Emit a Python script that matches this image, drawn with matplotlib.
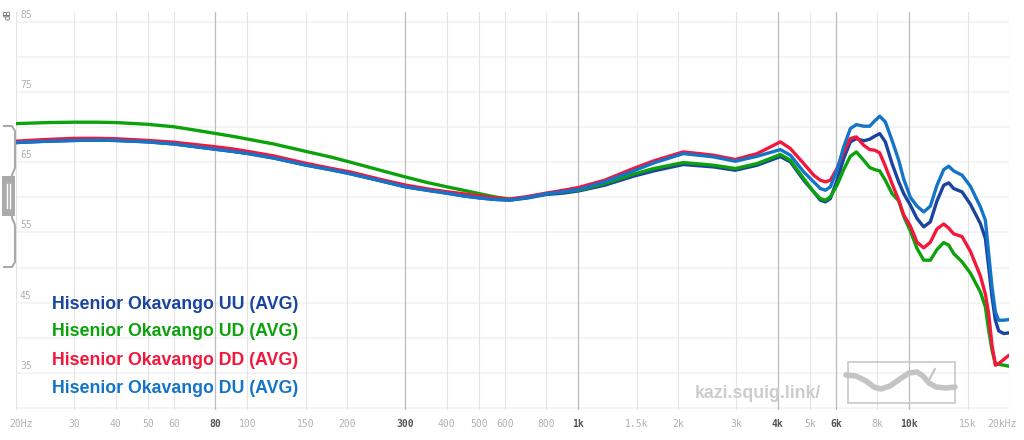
import matplotlib
matplotlib.use("Agg")
import matplotlib.pyplot as plt
from matplotlib.lines import Line2D
from matplotlib.patches import Rectangle
from matplotlib.transforms import IdentityTransform

W, H = 1024, 440

freqs = [20, 25, 30, 35, 40, 50, 60, 70, 80, 90, 100, 120, 150, 180, 205, 250, 300, 350,
         400, 450, 505, 560, 620, 700, 800, 900, 1000, 1200, 1466, 1690, 2075, 2560, 2980, 3470,
         4077, 4370, 4795, 5140, 5384, 5575, 5772, 6046, 6333, 6633, 6917, 7278, 7589, 7858,
         8136, 8462, 8863, 9286, 9614, 10070, 10550, 11050, 11570, 12120, 12700, 13150, 13610,
         14430, 15290, 16390, 16970, 17360, 17770, 18190, 18620, 19280, 20000]

uu = [67.8, 68.0, 68.1, 68.15, 68.1, 67.9, 67.6, 67.2, 66.85, 66.55, 66.25, 65.6, 64.6, 63.9, 63.35, 62.4, 61.5, 61.0,
      60.6, 60.2, 59.9, 59.7, 59.6, 59.9, 60.4, 60.6, 60.9, 61.72, 63.0, 63.76, 64.67, 64.33, 63.86, 64.57,
      65.8, 65.05, 62.43, 60.77, 59.59, 59.35, 59.82, 62.43, 65.52, 67.9, 68.37, 68.04, 68.28, 68.7,
      69.08, 67.9, 64.81, 62.2, 60.54, 58.87, 56.97, 55.79, 56.5, 59.49, 61.72, 62.06, 61.25,
      60.77, 59.02, 56.26, 54.13, 50.09, 45.82, 42.49, 40.97, 40.59, 40.69]

ud = [70.5, 70.65, 70.7, 70.7, 70.65, 70.4, 70.05, 69.55, 69.1, 68.7, 68.3, 67.6, 66.55, 65.7, 65.0, 63.9, 62.9, 62.1,
      61.5, 61.0, 60.5, 60.05, 59.75, 60.0, 60.5, 60.8, 61.0, 61.96, 63.29, 64.1, 64.95, 64.57, 64.1, 64.81,
      66.1, 65.28, 62.67, 60.77, 59.82, 59.59, 60.06, 61.72, 63.95, 65.85, 66.47, 65.28, 64.24, 63.95,
      63.76, 62.43, 60.54, 59.49, 57.3, 55.2, 52.7, 51.04, 51.04, 52.56, 53.56, 53.18, 51.99,
      50.8, 49.2, 46.5, 44.39, 41.07, 38.22, 36.32, 36.22, 36.08, 35.94]

dd = [68.0, 68.25, 68.4, 68.4, 68.35, 68.1, 67.85, 67.5, 67.2, 66.9, 66.55, 65.9, 64.85, 64.1, 63.6, 62.6, 61.75, 61.2,
      60.8, 60.5, 60.2, 59.9, 59.75, 60.1, 60.6, 61.0, 61.39, 62.43, 64.1, 65.19, 66.47, 66.0, 65.38, 66.23,
      67.9, 66.95, 64.81, 63.15, 62.43, 62.2, 62.43, 64.1, 66.47, 68.37, 68.61, 67.42, 66.8, 66.71,
      66.33, 64.43, 61.96, 59.59, 57.5, 55.9, 53.6, 52.8, 53.6, 55.5, 56.2, 55.6, 54.8,
      54.4, 52.3, 48.8, 46.2, 43.44, 38.93, 36.08, 36.32, 36.89, 37.51]

du = [67.8, 68.0, 68.1, 68.15, 68.1, 67.9, 67.6, 67.2, 66.85, 66.55, 66.25, 65.6, 64.6, 63.9, 63.35, 62.4, 61.5, 61.0,
      60.6, 60.2, 59.9, 59.7, 59.6, 59.95, 60.5, 60.8, 61.1, 62.2, 63.76, 64.9, 66.23, 65.76, 65.14, 65.85,
      66.8, 66.0, 63.62, 62.2, 61.25, 61.01, 61.49, 63.86, 67.18, 69.79, 70.36, 70.13, 70.13, 70.89,
      71.55, 70.74, 68.13, 65.28, 62.6, 60.0, 58.73, 57.92, 58.73, 61.72, 63.95, 64.43, 63.76,
      63.15, 61.58, 58.64, 56.74, 52.0, 47.24, 43.68, 42.49, 42.49, 42.59]

names = ["Hisenior Okavango UU (AVG)", "Hisenior Okavango UD (AVG)",
         "Hisenior Okavango DD (AVG)", "Hisenior Okavango DU (AVG)"]
colors = ["#1a44a0", "#0ca20c", "#f5163c", "#1474c8"]

light_ticks = [20, 30, 40, 50, 60, 100, 150, 200, 400, 500, 600, 800, 1500, 2000, 3000, 5000, 8000, 15000, 20000]
dark_ticks = [80, 300, 1000, 4000, 6000, 10000]
tick_text = {20: "20Hz", 30: "30", 40: "40", 50: "50", 60: "60", 80: "80", 100: "100", 150: "150",
             200: "200", 300: "300", 400: "400", 500: "500", 600: "600", 800: "800", 1000: "1k",
             1500: "1.5k", 2000: "2k", 3000: "3k", 4000: "4k", 5000: "5k", 6000: "6k", 8000: "8k",
             10000: "10k", 15000: "15k", 20000: "20kHz"}
db_labels = [35, 45, 55, 65, 75, 85]

fig = plt.figure(figsize=(W / 100, H / 100), dpi=100)
ax = fig.add_axes([16 / W, 1 - 410 / H, (1009 - 16) / W, (410 - 12) / H])
ax.set_xscale("log")
ax.set_xlim(20, 20000)
ax.set_ylim(29.7, 86.4)
for s in ax.spines.values():
    s.set_visible(False)
ax.set_xticks([])
ax.set_yticks([])
ax.minorticks_off()

for y in range(30, 90, 5):
    ax.axhline(y, color="#f3f3f3", lw=1.3, zorder=0)
for f in light_ticks:
    ax.axvline(f, color="#e4e4e4", lw=0.8, zorder=0)
for f in dark_ticks:
    ax.axvline(f, color="#bcbcbc", lw=0.9, zorder=0)

# curves
for vals, c in zip([uu, ud, dd, du], colors):
    ax.plot(freqs, vals, color=c, lw=2.4, solid_joinstyle="round", solid_capstyle="round", zorder=3)

# x labels
for f, t in tick_text.items():
    bold = f in dark_ticks
    dx = 5 if f == 20 else (-7 if f == 20000 else 0)
    ax.annotate(t, xy=(f, 0), xycoords=("data", "axes fraction"), xytext=(dx, -14),
                textcoords="offset pixels", ha="center", va="center",
                family="DejaVu Sans Mono", fontsize=7,
                color="#555555" if bold else "#b0b0b0",
                fontweight="bold" if bold else "normal")

# y labels
for v in db_labels:
    ax.annotate(str(v), xy=(0, v), xycoords=("axes fraction", "data"), xytext=(4, 2),
                textcoords="offset pixels", ha="left", va="bottom",
                family="DejaVu Sans Mono", fontsize=7, color="#b0b0b0")
fig.text(8 / W, 1 - 15 / H, "dB", rotation=90, ha="center", va="center",
         family="DejaVu Sans Mono", fontsize=6.5, color="#666666")

# legend
for i, (n, c) in enumerate(zip(names, colors)):
    fig.text(52 / W, 1 - (304 + 28 * i) / H, n, color=c, fontsize=12.8, fontweight="bold",
             family="Liberation Sans", ha="left", va="center")

# watermark
fig.text(695 / W, 1 - 393 / H, "kazi.squig.link/", color="#cccccc", fontsize=12.8,
         fontweight="bold", family="Liberation Sans", ha="left", va="center")

def px(x, y):
    return x, H - y

tr = IdentityTransform()
fig.add_artist(Rectangle(px(848, 403), 107, 41, fill=False, ec="#c8c8c8", lw=1.2, transform=tr))
sq_x = [846, 856, 866, 874, 881, 890, 900, 909, 917, 923, 929, 936, 946, 955]
sq_y = [375, 376, 381, 387, 389, 386, 379, 373, 372, 376, 383, 387, 388, 387]
fig.add_artist(Line2D(*zip(*[px(a, b) for a, b in zip(sq_x, sq_y)]), color="#c4c4c4", lw=4.0,
                      solid_capstyle="round", solid_joinstyle="round", transform=tr))
fig.add_artist(Line2D(*zip(px(929, 380), px(935, 369)), color="#c4c4c4", lw=1.5, transform=tr))

# left scale widget
br_x = [4, 12, 15, 15, 12, 12, 15, 15, 12, 4]
br_y = [126, 126, 131, 168, 175, 218, 225, 262, 267, 267]
fig.add_artist(Line2D(*zip(*[px(a, b) for a, b in zip(br_x, br_y)]), color="#aaaaaa", lw=1.5,
                      solid_joinstyle="round", transform=tr))
fig.add_artist(Rectangle(px(2, 216), 13, 40, fc="#aaaaaa", ec="none", transform=tr))
for xx in [7, 10]:
    fig.add_artist(Line2D(*zip(px(xx, 184), px(xx, 208)), color="white", lw=1, transform=tr))

fig.savefig("out.png", dpi=100)
